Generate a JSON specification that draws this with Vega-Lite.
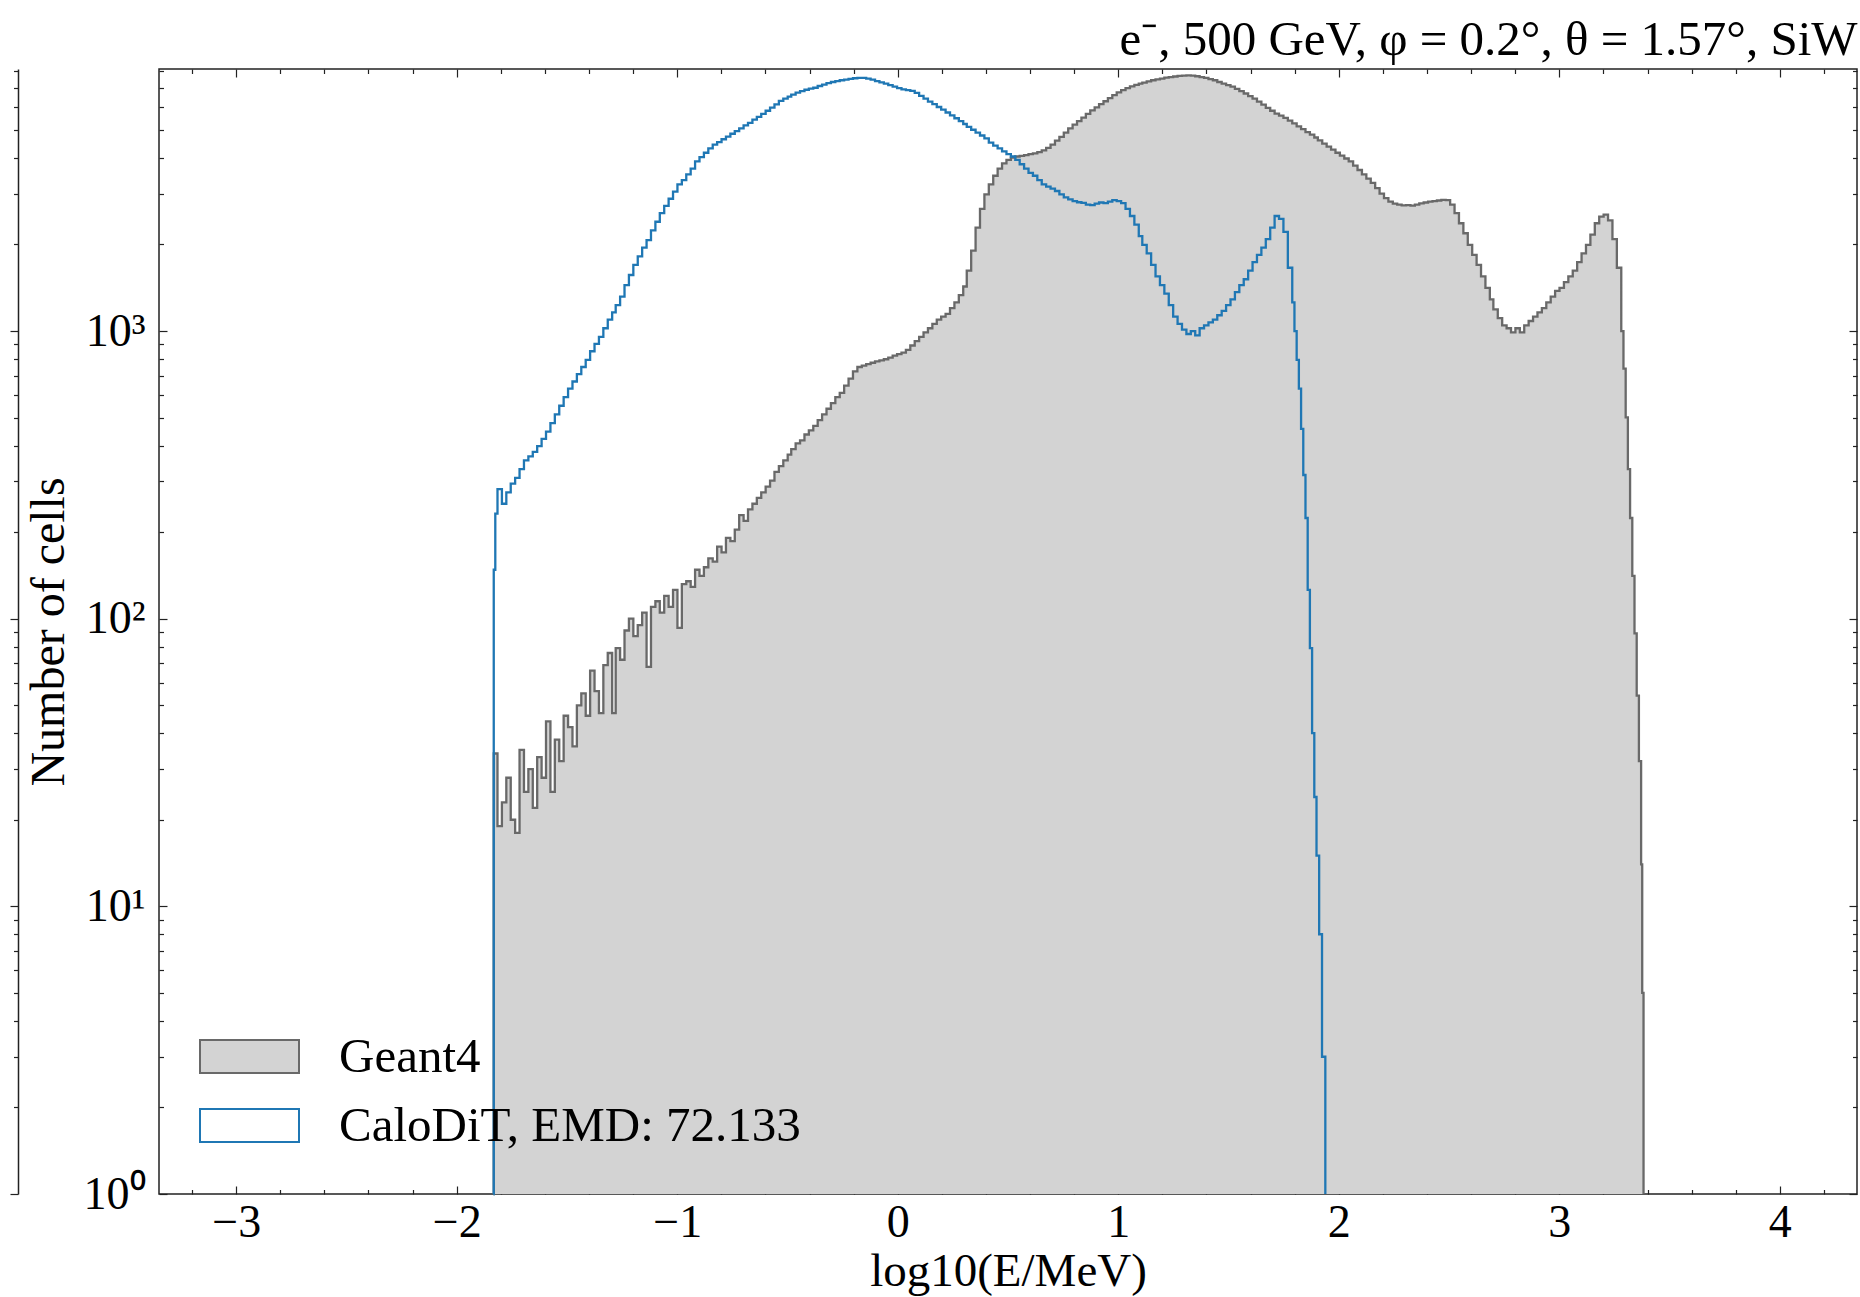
{
  "$schema": "https://vega.github.io/schema/vega-lite/v6.json",
  "width": 1698,
  "height": 1125,
  "autosize": {"type": "none"},
  "padding": {"left": 159, "top": 69, "right": 3, "bottom": 103},
  "background": "white",
  "config": {"view": {"stroke": "#222", "strokeWidth": 1.5}, "font": "Liberation Serif"},
  "datasets": {
    "geant4": [
      {"e":-1.834,"n":1},{"e":-1.832,"n":34},{"e":-1.815,"n":19},{"e":-1.795,"n":23},{"e":-1.775,"n":28},{"e":-1.755,"n":20},{"e":-1.735,"n":18},{"e":-1.715,"n":35},{"e":-1.695,"n":25},{"e":-1.675,"n":30},{"e":-1.655,"n":22},{"e":-1.635,"n":33},{"e":-1.615,"n":28},{"e":-1.595,"n":44},{"e":-1.575,"n":25},{"e":-1.555,"n":38},{"e":-1.535,"n":32},{"e":-1.515,"n":46},{"e":-1.495,"n":42},{"e":-1.475,"n":36},{"e":-1.455,"n":50},{"e":-1.435,"n":55},{"e":-1.415,"n":46},{"e":-1.395,"n":66},{"e":-1.375,"n":56},{"e":-1.355,"n":47},{"e":-1.335,"n":69},{"e":-1.315,"n":76},{"e":-1.295,"n":47},
      {"e":-1.279,"n":79},{"e":-1.259,"n":72},{"e":-1.239,"n":91},{"e":-1.219,"n":100},{"e":-1.199,"n":87},{"e":-1.179,"n":95},{"e":-1.159,"n":105},{"e":-1.139,"n":68},{"e":-1.119,"n":110},{"e":-1.099,"n":115},{"e":-1.079,"n":105},{"e":-1.059,"n":120},{"e":-1.039,"n":110},{"e":-1.019,"n":126},{"e":-0.999,"n":93},{"e":-0.979,"n":132},{"e":-0.959,"n":135},{"e":-0.939,"n":129},{"e":-0.919,"n":148},{"e":-0.899,"n":141},{"e":-0.879,"n":151},{"e":-0.859,"n":162},{"e":-0.839,"n":158},{"e":-0.819,"n":178},{"e":-0.799,"n":170},{"e":-0.779,"n":191},{"e":-0.759,"n":186},{"e":-0.739,"n":204},{"e":-0.719,"n":229},{"e":-0.699,"n":219},{"e":-0.679,"n":240},{"e":-0.659,"n":251},{"e":-0.639,"n":263},{"e":-0.619,"n":275},{"e":-0.599,"n":288},{"e":-0.579,"n":302},{"e":-0.559,"n":324},{"e":-0.539,"n":339},{"e":-0.519,"n":355},{"e":-0.499,"n":372},
      {"e":-0.483,"n":389},{"e":-0.463,"n":407},{"e":-0.443,"n":417},{"e":-0.423,"n":437},{"e":-0.403,"n":452},{"e":-0.383,"n":468},{"e":-0.363,"n":490},{"e":-0.343,"n":513},{"e":-0.323,"n":537},{"e":-0.303,"n":562},{"e":-0.283,"n":589},{"e":-0.263,"n":610},{"e":-0.243,"n":646},{"e":-0.223,"n":684},{"e":-0.203,"n":724},{"e":-0.183,"n":750},{"e":-0.163,"n":759},{"e":-0.143,"n":767},{"e":-0.123,"n":776},{"e":-0.103,"n":785},{"e":-0.083,"n":791},{"e":-0.063,"n":798},{"e":-0.043,"n":809},{"e":-0.023,"n":822},{"e":-0.003,"n":832},{"e":0.017,"n":841},{"e":0.037,"n":861},{"e":0.057,"n":891},{"e":0.077,"n":923},{"e":0.097,"n":955},{"e":0.117,"n":989},{"e":0.137,"n":1023},{"e":0.157,"n":1059},{"e":0.177,"n":1096},{"e":0.197,"n":1122},{"e":0.217,"n":1148},{"e":0.237,"n":1202},{"e":0.257,"n":1259},{"e":0.277,"n":1334},{"e":0.297,"n":1429},
      {"e":0.313,"n":1622},{"e":0.333,"n":1905},{"e":0.353,"n":2291},{"e":0.373,"n":2661},{"e":0.393,"n":2985},{"e":0.413,"n":3236},{"e":0.433,"n":3467},{"e":0.453,"n":3673},{"e":0.473,"n":3828},{"e":0.493,"n":3936},{"e":0.513,"n":4009},{"e":0.533,"n":4046},{"e":0.553,"n":4064},{"e":0.573,"n":4093},{"e":0.593,"n":4121},{"e":0.613,"n":4150},{"e":0.633,"n":4188},{"e":0.653,"n":4246},{"e":0.673,"n":4335},{"e":0.693,"n":4446},{"e":0.713,"n":4592},{"e":0.733,"n":4732},{"e":0.753,"n":4898},{"e":0.773,"n":5070},{"e":0.793,"n":5224},{"e":0.813,"n":5370},{"e":0.833,"n":5521},{"e":0.853,"n":5689},{"e":0.873,"n":5848},{"e":0.893,"n":5998},{"e":0.913,"n":6152},{"e":0.933,"n":6295},{"e":0.953,"n":6457},{"e":0.973,"n":6607},{"e":0.993,"n":6761},{"e":1.013,"n":6887},{"e":1.033,"n":6998},{"e":1.053,"n":7096},{"e":1.073,"n":7178},{"e":1.093,"n":7244},
      {"e":1.109,"n":7311},{"e":1.129,"n":7379},{"e":1.149,"n":7447},{"e":1.169,"n":7499},{"e":1.189,"n":7551},{"e":1.209,"n":7603},{"e":1.229,"n":7638},{"e":1.249,"n":7674},{"e":1.269,"n":7709},{"e":1.289,"n":7727},{"e":1.309,"n":7745},{"e":1.329,"n":7727},{"e":1.349,"n":7691},{"e":1.369,"n":7638},{"e":1.389,"n":7586},{"e":1.409,"n":7516},{"e":1.429,"n":7447},{"e":1.449,"n":7345},{"e":1.469,"n":7244},{"e":1.489,"n":7161},{"e":1.509,"n":7079},{"e":1.529,"n":6950},{"e":1.549,"n":6823},{"e":1.569,"n":6699},{"e":1.589,"n":6561},{"e":1.609,"n":6427},{"e":1.629,"n":6281},{"e":1.649,"n":6124},{"e":1.669,"n":5970},{"e":1.689,"n":5834},{"e":1.709,"n":5702},{"e":1.729,"n":5610},{"e":1.749,"n":5508},{"e":1.769,"n":5395},{"e":1.789,"n":5272},{"e":1.809,"n":5152},{"e":1.829,"n":5035},{"e":1.849,"n":4920},{"e":1.869,"n":4819},{"e":1.889,"n":4710},
      {"e":1.905,"n":4603},{"e":1.925,"n":4487},{"e":1.945,"n":4375},{"e":1.965,"n":4276},{"e":1.985,"n":4169},{"e":2.005,"n":4074},{"e":2.025,"n":3981},{"e":2.045,"n":3890},{"e":2.065,"n":3758},{"e":2.085,"n":3631},{"e":2.105,"n":3508},{"e":2.125,"n":3388},{"e":2.145,"n":3273},{"e":2.165,"n":3141},{"e":2.185,"n":3006},{"e":2.205,"n":2897},{"e":2.225,"n":2818},{"e":2.245,"n":2773},{"e":2.265,"n":2754},{"e":2.285,"n":2735},{"e":2.305,"n":2742},{"e":2.325,"n":2729},{"e":2.345,"n":2754},{"e":2.365,"n":2780},{"e":2.385,"n":2799},{"e":2.405,"n":2818},{"e":2.425,"n":2831},{"e":2.445,"n":2844},{"e":2.465,"n":2858},{"e":2.485,"n":2851},{"e":2.505,"n":2754},{"e":2.525,"n":2570},{"e":2.545,"n":2371},{"e":2.565,"n":2188},{"e":2.585,"n":1995},{"e":2.605,"n":1841},{"e":2.625,"n":1698},{"e":2.645,"n":1549},{"e":2.665,"n":1413},{"e":2.685,"n":1288},
      {"e":2.701,"n":1189},{"e":2.721,"n":1109},{"e":2.741,"n":1047},{"e":2.761,"n":1023},{"e":2.781,"n":989},{"e":2.801,"n":1023},{"e":2.821,"n":989},{"e":2.841,"n":1047},{"e":2.861,"n":1084},{"e":2.881,"n":1122},{"e":2.901,"n":1161},{"e":2.921,"n":1202},{"e":2.941,"n":1259},{"e":2.961,"n":1318},{"e":2.981,"n":1380},{"e":3.001,"n":1413},{"e":3.021,"n":1479},{"e":3.041,"n":1549},{"e":3.061,"n":1622},{"e":3.081,"n":1738},{"e":3.101,"n":1862},{"e":3.121,"n":1995},{"e":3.141,"n":2163},{"e":3.161,"n":2371},{"e":3.181,"n":2500},{"e":3.201,"n":2541},{"e":3.221,"n":2427},{"e":3.241,"n":2089},{"e":3.261,"n":1660},{"e":3.281,"n":1000},{"e":3.291,"n":741},{"e":3.301,"n":501},{"e":3.311,"n":331},{"e":3.321,"n":224},{"e":3.331,"n":141},{"e":3.341,"n":89},{"e":3.351,"n":54},{"e":3.361,"n":32},{"e":3.371,"n":14},{"e":3.376,"n":5},{"e":3.382,"n":1}
    ],
    "calodit": [
      {"e":-1.834,"n":1},{"e":-1.832,"n":148},{"e":-1.825,"n":232},{"e":-1.815,"n":282},{"e":-1.795,"n":251},{"e":-1.775,"n":275},{"e":-1.755,"n":295},{"e":-1.735,"n":309},{"e":-1.715,"n":331},{"e":-1.695,"n":355},{"e":-1.675,"n":367},{"e":-1.655,"n":380},{"e":-1.635,"n":398},{"e":-1.615,"n":422},{"e":-1.595,"n":447},{"e":-1.575,"n":479},{"e":-1.555,"n":513},{"e":-1.535,"n":550},{"e":-1.515,"n":589},{"e":-1.495,"n":631},{"e":-1.475,"n":668},{"e":-1.455,"n":708},{"e":-1.435,"n":750},{"e":-1.415,"n":794},{"e":-1.395,"n":851},{"e":-1.375,"n":902},{"e":-1.355,"n":955},{"e":-1.335,"n":1023},{"e":-1.315,"n":1096},{"e":-1.295,"n":1161},
      {"e":-1.279,"n":1230},{"e":-1.259,"n":1318},{"e":-1.239,"n":1445},{"e":-1.219,"n":1567},{"e":-1.199,"n":1698},{"e":-1.179,"n":1820},{"e":-1.159,"n":1950},{"e":-1.139,"n":2070},{"e":-1.119,"n":2239},{"e":-1.099,"n":2399},{"e":-1.079,"n":2570},{"e":-1.059,"n":2723},{"e":-1.039,"n":2884},{"e":-1.019,"n":3055},{"e":-0.999,"n":3236},{"e":-0.979,"n":3350},{"e":-0.959,"n":3508},{"e":-0.939,"n":3673},{"e":-0.919,"n":3890},{"e":-0.899,"n":4027},{"e":-0.879,"n":4169},{"e":-0.859,"n":4315},{"e":-0.839,"n":4446},{"e":-0.819,"n":4539},{"e":-0.799,"n":4645},{"e":-0.779,"n":4743},{"e":-0.759,"n":4853},{"e":-0.739,"n":4955},{"e":-0.719,"n":5070},{"e":-0.699,"n":5188},{"e":-0.679,"n":5297},{"e":-0.659,"n":5433},{"e":-0.639,"n":5559},{"e":-0.619,"n":5689},{"e":-0.599,"n":5834},{"e":-0.579,"n":5984},{"e":-0.559,"n":6138},{"e":-0.539,"n":6310},{"e":-0.519,"n":6427},{"e":-0.499,"n":6531},
      {"e":-0.483,"n":6637},{"e":-0.463,"n":6745},{"e":-0.443,"n":6823},{"e":-0.423,"n":6902},{"e":-0.403,"n":6966},{"e":-0.383,"n":7015},{"e":-0.363,"n":7112},{"e":-0.343,"n":7194},{"e":-0.323,"n":7278},{"e":-0.303,"n":7345},{"e":-0.283,"n":7396},{"e":-0.263,"n":7447},{"e":-0.243,"n":7482},{"e":-0.223,"n":7534},{"e":-0.203,"n":7568},{"e":-0.183,"n":7586},{"e":-0.163,"n":7586},{"e":-0.143,"n":7551},{"e":-0.123,"n":7482},{"e":-0.103,"n":7396},{"e":-0.083,"n":7328},{"e":-0.063,"n":7244},{"e":-0.043,"n":7161},{"e":-0.023,"n":7079},{"e":-0.003,"n":6998},{"e":0.017,"n":6918},{"e":0.037,"n":6887},{"e":0.057,"n":6839},{"e":0.077,"n":6730},{"e":0.097,"n":6577},{"e":0.117,"n":6427},{"e":0.137,"n":6281},{"e":0.157,"n":6152},{"e":0.177,"n":6012},{"e":0.197,"n":5888},{"e":0.217,"n":5754},{"e":0.237,"n":5623},{"e":0.257,"n":5495},{"e":0.277,"n":5370},{"e":0.297,"n":5248},
      {"e":0.313,"n":5129},{"e":0.333,"n":5012},{"e":0.353,"n":4898},{"e":0.373,"n":4786},{"e":0.393,"n":4677},{"e":0.413,"n":4519},{"e":0.433,"n":4416},{"e":0.453,"n":4315},{"e":0.473,"n":4217},{"e":0.493,"n":4121},{"e":0.513,"n":4046},{"e":0.533,"n":3936},{"e":0.553,"n":3802},{"e":0.573,"n":3673},{"e":0.593,"n":3548},{"e":0.613,"n":3467},{"e":0.633,"n":3350},{"e":0.653,"n":3236},{"e":0.673,"n":3177},{"e":0.693,"n":3126},{"e":0.713,"n":3069},{"e":0.733,"n":2985},{"e":0.753,"n":2917},{"e":0.773,"n":2871},{"e":0.793,"n":2831},{"e":0.813,"n":2805},{"e":0.833,"n":2793},{"e":0.853,"n":2754},{"e":0.873,"n":2742},{"e":0.893,"n":2773},{"e":0.913,"n":2799},{"e":0.933,"n":2786},{"e":0.953,"n":2818},{"e":0.973,"n":2851},{"e":0.993,"n":2831},{"e":1.013,"n":2786},{"e":1.033,"n":2661},{"e":1.053,"n":2512},{"e":1.073,"n":2344},{"e":1.093,"n":2138},
      {"e":1.109,"n":1995},{"e":1.129,"n":1862},{"e":1.149,"n":1698},{"e":1.169,"n":1549},{"e":1.189,"n":1445},{"e":1.209,"n":1349},{"e":1.229,"n":1230},{"e":1.249,"n":1122},{"e":1.269,"n":1059},{"e":1.289,"n":1012},{"e":1.309,"n":977},{"e":1.329,"n":1000},{"e":1.349,"n":966},{"e":1.369,"n":1023},{"e":1.389,"n":1047},{"e":1.409,"n":1072},{"e":1.429,"n":1096},{"e":1.449,"n":1135},{"e":1.469,"n":1175},{"e":1.489,"n":1230},{"e":1.509,"n":1288},{"e":1.529,"n":1365},{"e":1.549,"n":1445},{"e":1.569,"n":1514},{"e":1.589,"n":1622},{"e":1.609,"n":1738},{"e":1.629,"n":1841},{"e":1.649,"n":1950},{"e":1.669,"n":2089},{"e":1.689,"n":2291},{"e":1.709,"n":2512},{"e":1.729,"n":2455},{"e":1.749,"n":2213},{"e":1.769,"n":1660},{"e":1.789,"n":1259},{"e":1.799,"n":1000},{"e":1.809,"n":794},{"e":1.819,"n":631},{"e":1.829,"n":457},{"e":1.839,"n":316},{"e":1.849,"n":224},{"e":1.859,"n":126},{"e":1.869,"n":79},{"e":1.879,"n":40},{"e":1.889,"n":24},{"e":1.899,"n":15},{"e":1.911,"n":8},{"e":1.924,"n":3},{"e":1.939,"n":1}
    ]
  },
  "layer": [
    {
      "data": {"name": "geant4"},
      "mark": {"type": "area", "interpolate": "step-after", "fill": "#d3d3d3", "fillOpacity": 1},
      "encoding": {
        "x": {"field": "e", "type": "quantitative", "scale": {"domain": [-3.35, 4.35], "nice": false, "zero": false},
          "axis": {"orient": "bottom", "values": [-3.2,-3,-2.8,-2.6,-2.4,-2.2,-2,-1.8,-1.6,-1.4,-1.2,-1,-0.8,-0.6,-0.4,-0.2,0,0.2,0.4,0.6,0.8,1,1.2,1.4,1.6,1.8,2,2.2,2.4,2.6,2.8,3,3.2,3.4,3.6,3.8,4,4.2],
            "labelExpr": "datum.value % 1 === 0 ? format(datum.value, 'd') : ''",
            "tickSize": {"condition": {"test": "datum.value % 1 === 0", "value": -8}, "value": -4.5},
            "tickColor": "#222", "tickWidth": 1.2, "domain": false, "grid": false,
            "labelFont": "Liberation Serif", "labelFontSize": 46, "labelColor": "#000", "labelPadding": 14, "labelOverlap": false, "labelFlush": false,
            "title": "log10(E/MeV)", "titleFont": "Liberation Serif", "titleFontSize": 47, "titleFontWeight": "normal", "titleColor": "#000", "titlePadding": 0}},
        "y": {"field": "n", "type": "quantitative", "stack": null, "scale": {"type": "log", "domain": [1, 8150], "nice": false},
          "axis": {"orient": "left", "values": [1,2,3,4,5,6,7,8,9,10,20,30,40,50,60,70,80,90,100,200,300,400,500,600,700,800,900,1000,2000,3000,4000,5000,6000,7000,8000],
            "labelExpr": "datum.value === 1 ? '10⁰' : datum.value === 10 ? '10¹' : datum.value === 100 ? '10²' : datum.value === 1000 ? '10³' : ''",
            "tickSize": {"condition": {"test": "datum.value === 1 || datum.value === 10 || datum.value === 100 || datum.value === 1000", "value": -8}, "value": -4.5},
            "tickColor": "#222", "tickWidth": 1.2, "domain": false, "grid": false,
            "labelFont": "Liberation Serif", "labelFontSize": 46, "labelColor": "#000", "labelPadding": 22, "labelOverlap": false, "labelFlush": false,
            "title": "Number of cells", "titleFont": "Liberation Serif", "titleFontSize": 48, "titleFontWeight": "normal", "titleColor": "#000", "titlePadding": 10}},
        "y2": {"datum": 1}
      }
    },
    {
      "data": {"name": "geant4"},
      "mark": {"type": "line", "interpolate": "step-after", "strokeWidth": 2.3, "stroke": "#696969"},
      "encoding": {
        "x": {"field": "e", "type": "quantitative", "scale": {"domain": [-3.35, 4.35], "nice": false, "zero": false},
          "axis": {"orient": "top", "values": [-3.2,-3,-2.8,-2.6,-2.4,-2.2,-2,-1.8,-1.6,-1.4,-1.2,-1,-0.8,-0.6,-0.4,-0.2,0,0.2,0.4,0.6,0.8,1,1.2,1.4,1.6,1.8,2,2.2,2.4,2.6,2.8,3,3.2,3.4,3.6,3.8,4,4.2],
            "labels": false, "domain": false, "grid": false,
            "tickSize": {"condition": {"test": "datum.value % 1 === 0", "value": -8}, "value": -4.5},
            "tickColor": "#222", "tickWidth": 1.2,
            "title": "e⁻, 500 GeV, φ = 0.2°, θ = 1.57°, SiW", "titleAnchor": "end", "titleAlign": "right", "titleBaseline": "alphabetic",
            "titleFont": "Liberation Serif", "titleFontSize": 49, "titleFontWeight": "normal", "titleColor": "#000", "titlePadding": 14}},
        "y": {"field": "n", "type": "quantitative", "stack": null, "scale": {"type": "log", "domain": [1, 8150], "nice": false},
          "axis": {"orient": "right", "values": [1,2,3,4,5,6,7,8,9,10,20,30,40,50,60,70,80,90,100,200,300,400,500,600,700,800,900,1000,2000,3000,4000,5000,6000,7000,8000],
            "labels": false, "title": null, "domain": false, "grid": false,
            "tickSize": {"condition": {"test": "datum.value === 1 || datum.value === 10 || datum.value === 100 || datum.value === 1000", "value": -8}, "value": -4.5},
            "tickColor": "#222", "tickWidth": 1.2}}
      }
    },
    {
      "data": {"name": "calodit"},
      "mark": {"type": "line", "interpolate": "step-after", "strokeWidth": 2.3},
      "encoding": {
        "x": {"field": "e", "type": "quantitative", "scale": {"domain": [-3.35, 4.35], "nice": false, "zero": false}, "axis": null},
        "y": {"field": "n", "type": "quantitative", "stack": null, "scale": {"type": "log", "domain": [1, 8150], "nice": false},
          "axis": {"orient": "left", "offset": 141, "values": [1,2,3,4,5,6,7,8,9,10,20,30,40,50,60,70,80,90,100,200,300,400,500,600,700,800,900,1000,2000,3000,4000,5000,6000,7000,8000],
            "labels": false, "title": null, "domain": true, "domainColor": "#222", "domainWidth": 1.5, "grid": false,
            "tickSize": {"condition": {"test": "datum.value === 1 || datum.value === 10 || datum.value === 100 || datum.value === 1000", "value": 8}, "value": 4.5},
            "tickColor": "#222", "tickWidth": 1.2}},
        "stroke": {"datum": "CaloDiT, EMD: 72.133", "type": "nominal",
          "scale": {"domain": ["Geant4", "CaloDiT, EMD: 72.133"], "range": ["#696969", "#1f77b4"]},
          "legend": {"title": null, "orient": "none", "legendX": 66, "legendY": 963,
            "symbolType": "M-3,-1H3V1H-3Z", "symbolSize": 1089, "symbolStrokeWidth": 2,
            "labelFont": "Liberation Serif", "labelFontSize": 49, "labelColor": "#000", "labelOffset": 65, "labelLimit": 0, "rowPadding": 19,
            "encode": {"symbols": {"update": {"fill": {"signal": "datum.value === 'Geant4' ? '#d3d3d3' : '#ffffff'"}, "fillOpacity": {"value": 1}, "opacity": {"value": 1}, "strokeWidth": {"value": 2}}}}}}
      }
    }
  ],
  "resolve": {"axis": {"x": "independent", "y": "independent"}, "scale": {"x": "shared", "y": "shared"}}
}
